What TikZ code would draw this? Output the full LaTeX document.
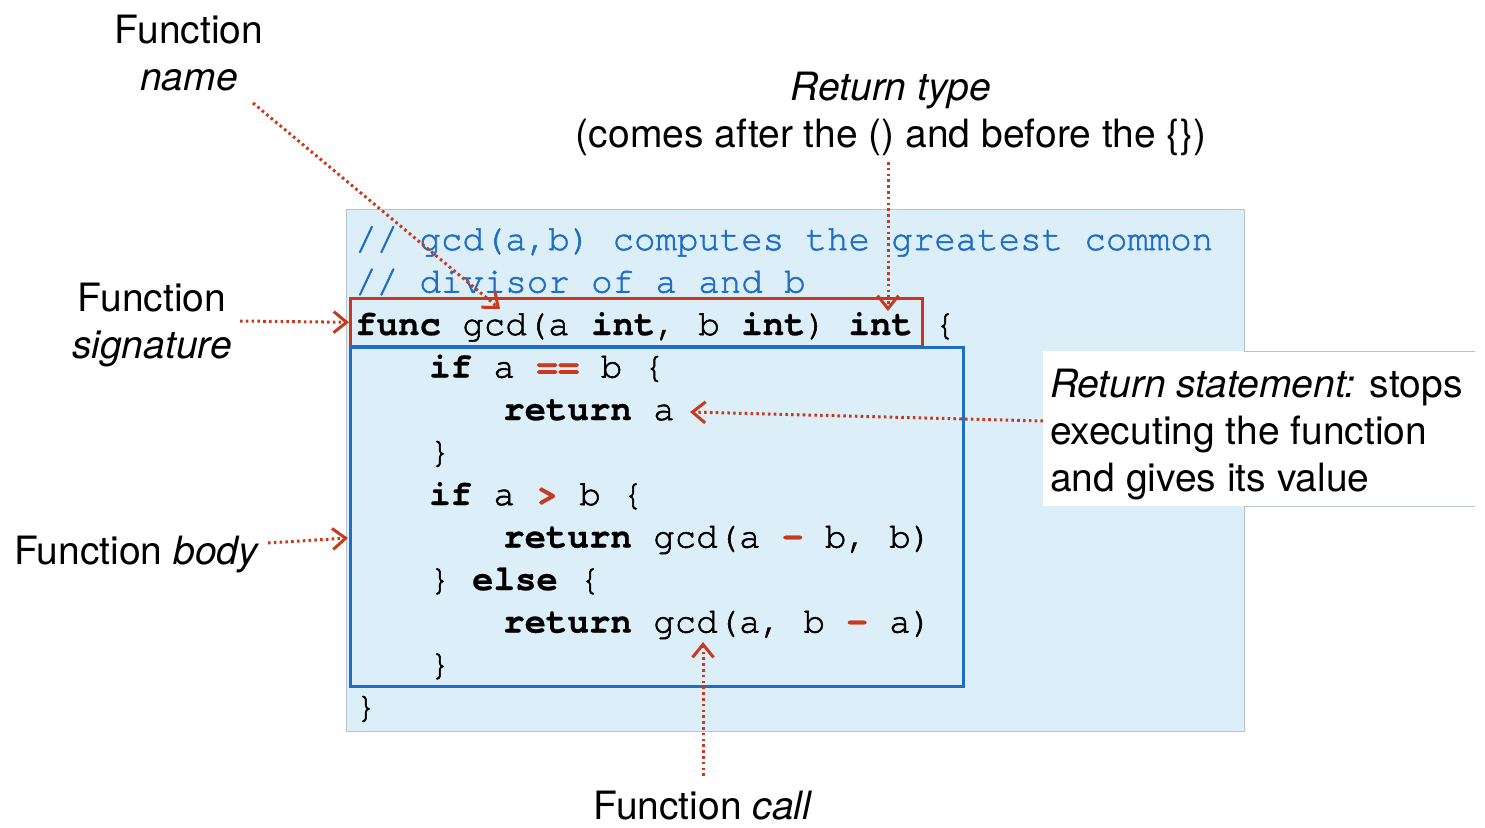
\documentclass[tikz,border=0pt]{standalone}
\usepackage{fontspec}
\setmainfont{TeX Gyre Heros}
\newfontfamily\codefont{texgyrecursor}[Extension=.otf, UprightFont=*-regular, BoldFont=*-bold, ItalicFont=*-italic, BoldItalicFont=*-bolditalic, UprightFeatures={FakeBold=1.6}, BoldFeatures={FakeBold=0.6}]
\usetikzlibrary{arrows.meta}
\definecolor{bgblue}{HTML}{DCEEF8}
\definecolor{bgedge}{HTML}{B8C4CC}
\definecolor{codeblue}{HTML}{1F6EC6}
\definecolor{arrred}{HTML}{C83A1E}
\definecolor{boxred}{HTML}{C8381E}
\definecolor{boxblue}{HTML}{1E6EC8}
\newcommand{\kw}[1]{\textbf{#1}}
\newcommand{\op}[1]{\textcolor{arrred}{\textbf{#1}}}
\begin{document}
\begin{tikzpicture}[x=1pt,y=-1pt,
  code/.style={anchor=base west, inner sep=0pt, font=\codefont\fontsize{35.75}{42.5}\selectfont},
  lbl/.style={inner sep=0pt, font=\fontsize{39}{47}\selectfont},
  arr/.style={draw=arrred, line width=3pt, dash pattern=on 2.6pt off 3.2pt,
    -{Straight Barb[length=13pt,width=21pt,line width=3pt]}}
]
\useasboundingbox (0,0) rectangle (1485,827);

% background of code
\node[draw=bgedge, line width=1pt, fill=bgblue, minimum width=898pt, minimum height=522pt,
  anchor=north west, inner sep=0pt] (bg) at (346,209) {};

% code lines
\node[code] (c1) at (355,250) {\textcolor{codeblue}{// gcd(a,b) computes the greatest common}};
\node[code] (c2) at (355,292.5) {\textcolor{codeblue}{// divisor of a and b}};
\node[code] (c3) at (355,335) {\kw{func} gcd(a \kw{int}, b \kw{int}) \kw{int} \{};
\node[code] (c4) at (429,377.5) {\kw{if} a \op{==} b \{};
\node[code] (c5) at (503,420) {\kw{return} a};
\node[code] (c6) at (429,462.5) {\}};
\node[code] (c7) at (429,505) {\kw{if} a \op{>} b \{};
\node[code] (c8) at (503,547.5) {\kw{return} gcd(a \op{-} b, b)};
\node[code] (c9) at (429,590) {\} \kw{else} \{};
\node[code] (c10) at (503,632.5) {\kw{return} gcd(a, b \op{-} a)};
\node[code] (c11) at (429,675) {\}};
\node[code] (c12) at (355,717.5) {\}};

% signature and body boxes
\node[draw=boxred, line width=2.6pt, minimum width=572pt, minimum height=48pt,
  anchor=north west, inner sep=0pt] (sig) at (349,297) {};
\node[draw=boxblue, line width=2.6pt, minimum width=613pt, minimum height=339pt,
  anchor=north west, inner sep=0pt] (body) at (349,346) {};

% return statement box
\node[fill=white, minimum width=432pt, minimum height=155pt, anchor=north west, inner sep=0pt]
  (rbox) at (1043,351) {};
\draw[bgedge, line width=1pt] (1244,351) -- (1475,351);
\draw[bgedge, line width=1pt] (1244,506) -- (1475,506);
\node[lbl, align=left, anchor=north west] (rtext) at (1050,369)
  {\textit{Return statement:} stops\\executing the function\\and gives its value};

% labels
\node[lbl, align=center] (fname) at (189,53) {Function\\\textit{name}};
\node[lbl, align=center] (rtype) at (891,114) {\textit{Return type}\\(comes after the () and before the \{\})};
\node[lbl, align=center] (fsig) at (152,325) {Function\\\textit{signature}};
\node[lbl] (fbody) at (137,555) {Function \textit{body}};
\node[lbl] (fcall) at (703,806) {Function \textit{call}};

% arrow ends
\coordinate (nameS) at (253,103);
\coordinate (nameT) at (500,309);
\coordinate (typeS) at (888,162);
\coordinate (typeT) at (888,311);
\coordinate (sigS) at (240,321);
\coordinate (retS) at (1043,421);
\coordinate (retT) at (690,412);
\coordinate (bodyS) at (268,543);
\coordinate (bodyT) at (348,538);
\coordinate (callS) at (703,776);
\coordinate (callT) at (703,642);

\draw[arr] (nameS) -- (nameT);
\draw[arr] (typeS) -- (typeT);
\draw[arr] (sigS) -- (sig.west);
\draw[arr] (retS) -- (retT);
\draw[arr] (bodyS) -- (bodyT);
\draw[arr] (callS) -- (callT);
\end{tikzpicture}
\end{document}
